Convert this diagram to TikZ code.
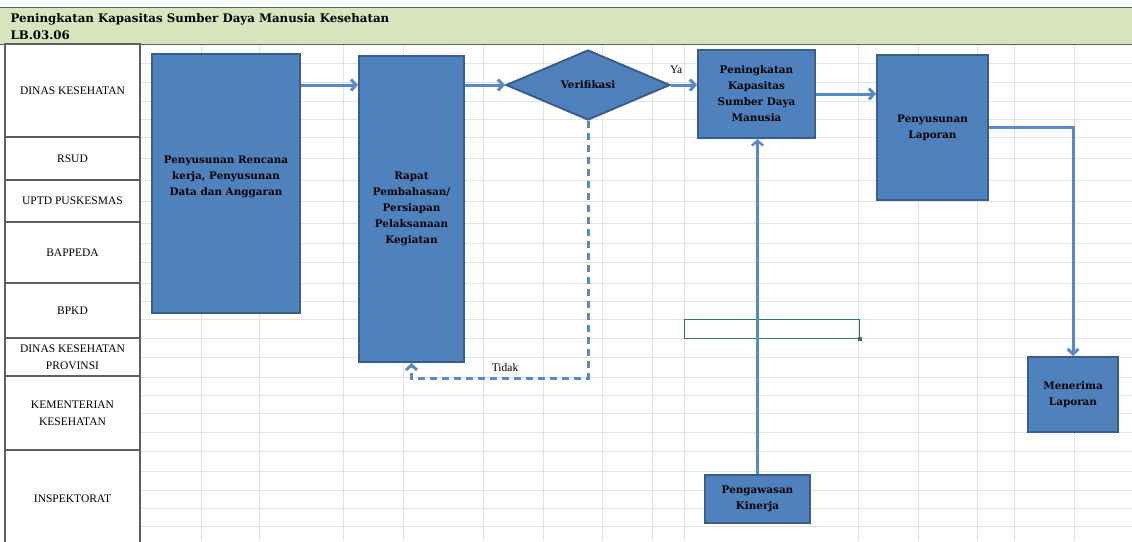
\documentclass[tikz,border=0pt]{standalone}
\usepackage{xcolor}
\usepackage{fontspec}
\setmainfont{Liberation Serif}
\newfontfamily\slabfont{DejaVu Serif}
\usepackage{tikz}
\usetikzlibrary{shapes.geometric}
\usetikzlibrary{positioning, arrows.meta}
\definecolor{boxblue}{HTML}{4F81BD}
\definecolor{boxline}{HTML}{3A5E8C}
\definecolor{flowblue}{HTML}{5A8AC6}
\definecolor{headgreen}{HTML}{D8E4BC}
\definecolor{cellgreen}{HTML}{2E7D46}
\definecolor{gridgray}{HTML}{E2E2E2}
\definecolor{lanegray}{HTML}{5E5E5E}

\begin{document}
\begin{tikzpicture}[x=1pt, y=-1pt,
		proc/.style 2 args={
			rectangle,
			draw=boxline,
			fill=boxblue,
			line width=2pt,
			minimum width=#1,
			minimum height=#2,
			inner sep=2pt,
			align=center,
			font=\slabfont\bfseries\fontsize{10.4}{16}\selectfont},
		lane/.style={draw=lanegray, fill=white, line width=1.5pt, minimum width=135, align=center, inner sep=1pt, font=\fontsize{11.5}{17}\selectfont},
		flow/.style={draw=flowblue, line width=3pt, -{Straight Barb[length=5pt,width=11pt]}},
		grid/.style={draw=gridgray, line width=0.8pt}
		]
		\useasboundingbox (0,0) rectangle (1132,541);
		\foreach \x in {201,259,343,403,483,543,602,652,684,858,918,977,1014,1074}
		\draw[grid] (\x,44) -- (\x,541);
		\foreach \y in {63,82,101,119,137,158,180,201,223,243,262,283,301,319,338,357,377,395,413,432,451,471,490,508,526}
		\draw[grid] (140,\y) -- (1132,\y);
		\node [draw=lanegray, fill=headgreen, line width=1.2pt, minimum width=1140, minimum height=37, anchor=north west] (kepala) at (-4,7) {};
		\node [anchor=base west, font=\slabfont\bfseries\fontsize{11.8}{18}\selectfont] (judul) at (7,22) {Peningkatan Kapasitas Sumber Daya Manusia Kesehatan};
		\node [anchor=base west, font=\slabfont\bfseries\fontsize{11.8}{18}\selectfont] (kode) at (7,39) {LB.03.06};
		\foreach \txt/\ya/\yb [count=\k] in {DINAS KESEHATAN/44/137, RSUD/137/180, UPTD PUSKESMAS/180/222, BAPPEDA/222/283, BPKD/283/338, {DINAS KESEHATAN\\PROVINSI}/338/376, {KEMENTERIAN\\KESEHATAN}/376/450, INSPEKTORAT/450/548}
		\node [lane, minimum height=\yb-\ya] (lane\k) at (72.5, {(\ya+\yb)/2}) {\txt};
		\node [proc={148}{259}] (rencana) at (226,183.5) {Penyusunan Rencana\\kerja, Penyusunan\\Data dan Anggaran\\[0pt]};
		\node [proc={105}{306}] (rapat) at (411.5,209) {Rapat\\Pembahasan/\\Persiapan\\Pelaksanaan\\Kegiatan};
		\node [diamond, draw=boxline, fill=boxblue, line width=2pt, minimum width=164, minimum height=70, inner sep=0pt, font=\slabfont\bfseries\fontsize{10.4}{16}\selectfont] (verif) at (588,85) {Verifikasi};
		\node [proc={117}{88}] (sdm) at (756.5,94) {Peningkatan\\Kapasitas\\Sumber Daya\\Manusia};
		\node [proc={111}{145}] (laporan) at (932.5,127.5) {Penyusunan\\Laporan};
		\node [proc={90}{75}] (terima) at (1073,394.5) {Menerima\\Laporan};
		\node [proc={105}{48}] (awas) at (757.5,499) {Pengawasan\\Kinerja};
		\node [draw=cellgreen, line width=1pt, minimum width=175, minimum height=19, inner sep=0pt] (sel) at (771.5,328.5) {};
		\node [fill=cellgreen, minimum size=4pt, inner sep=0pt] (pegang) at (sel.south east) {};
		\coordinate (balik) at (588,378);
		\draw[flow] (rencana.east |- verif.west) to (rapat.west |- verif.west);
		\draw[flow] (rapat.east |- verif.west) to (verif.west);
		\draw[flow] (verif.east) to node[above=7pt, pos=0.2, font=\fontsize{11.5}{13}\selectfont]{Ya} (sdm.west |- verif.east);
		\draw[flow] (sdm.east) to (laporan.west |- sdm.east);
		\draw[flow] (laporan.east) -| (terima.north);
		\draw[flow, line width=2.4pt] (awas.north) to (awas.north |- sdm.south);
		\draw[flow, dash pattern=on 7pt off 5pt] (verif.south) -- (balik) -- node[above=2pt, pos=0.47, font=\fontsize{11.5}{13}\selectfont]{Tidak} (balik -| rapat.south) -- (rapat.south);
		\end{tikzpicture}
\end{document}
